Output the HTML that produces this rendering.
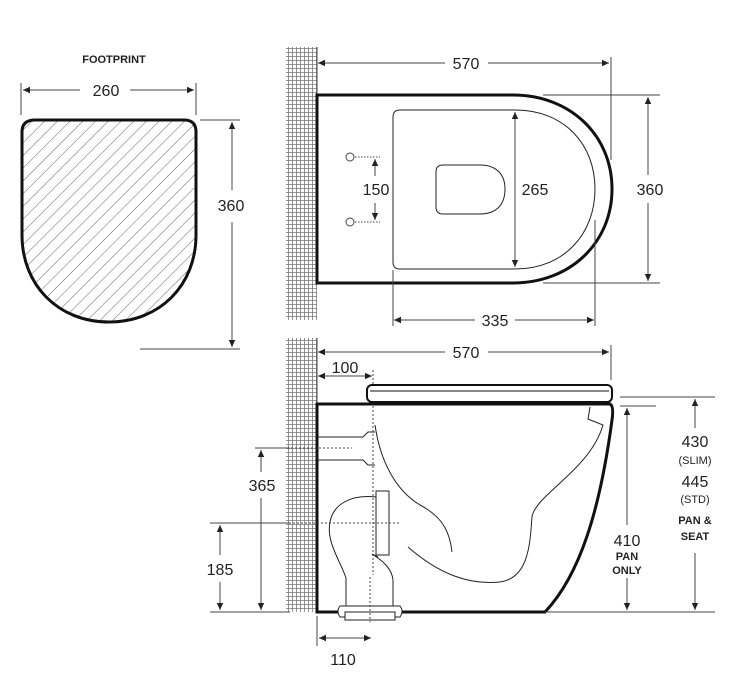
<!DOCTYPE html>
<html><head><style>
html,body{margin:0;padding:0;background:#fff;}
svg{display:block;font-family:"Liberation Sans",sans-serif;}
</style></head><body>
<svg width="743" height="686" viewBox="0 0 743 686" xmlns="http://www.w3.org/2000/svg">
<defs>
<pattern id="grid" width="4" height="4" patternUnits="userSpaceOnUse">
<path d="M0,0.5H4M0.5,0V4" stroke="#777" stroke-width="0.8" fill="none"/>
</pattern>
<pattern id="hatch" width="9" height="9" patternUnits="userSpaceOnUse" patternTransform="rotate(45)">
<line x1="0" y1="0" x2="0" y2="9" stroke="#666" stroke-width="1"/>
</pattern>
<marker id="a" markerWidth="8" markerHeight="8" refX="7" refY="4" orient="auto-start-reverse" markerUnits="userSpaceOnUse">
<path d="M0,0.8L7,4L0,7.2Z" fill="#222"/>
</marker>
</defs>
<g fill="none" stroke="#444" stroke-width="1">
<!-- walls -->
<rect x="286" y="47" width="31" height="273" fill="url(#grid)" stroke="none"/>
<rect x="286" y="338" width="31" height="274" fill="url(#grid)" stroke="none"/>
<line x1="317" y1="47" x2="317" y2="95"/>
<line x1="317" y1="338" x2="317" y2="404"/>

<!-- FOOTPRINT -->
<path d="M35,120 H184 Q196,120 196,132 V235 C196,285 160,322 109,322 C58,322 22,285 22,235 V132 Q22,120 35,120Z" fill="url(#hatch)" stroke="#111" stroke-width="3"/>
<line x1="21" y1="83" x2="21" y2="115"/><line x1="196" y1="83" x2="196" y2="115"/>
<line x1="23" y1="90" x2="80" y2="90" marker-start="url(#a)"/><line x1="130" y1="90" x2="194" y2="90" marker-end="url(#a)"/>
<line x1="200" y1="120" x2="240" y2="120"/><line x1="140" y1="349" x2="240" y2="349"/>
<line x1="232" y1="122" x2="232" y2="190" marker-start="url(#a)"/><line x1="232" y1="222" x2="232" y2="347" marker-end="url(#a)"/>

<!-- TOP PLAN -->
<path d="M317,95 H513 C570,95 612,135 612,189 C612,243 570,283 513,283 H317 Z" stroke="#111" stroke-width="3" fill="#fff"/>
<path d="M400,110 H515 C565,110 595,145 595,189 C595,233 565,269 515,269 H400 Q393,269 393,262 V117 Q393,110 400,110Z" stroke="#222"/>
<path d="M443,165 H480 C497,165 505,175 505,189 C505,204 497,214 480,214 H443 Q436,214 436,207 V172 Q436,165 443,165Z" stroke="#222"/>
<line x1="318" y1="63" x2="445" y2="63" marker-start="url(#a)"/><line x1="488" y1="63" x2="609" y2="63" marker-end="url(#a)"/>
<line x1="611" y1="57" x2="611" y2="160"/>
<line x1="515" y1="112" x2="515" y2="267" marker-start="url(#a)" marker-end="url(#a)"/>
<line x1="543" y1="95" x2="660" y2="95"/><line x1="543" y1="283" x2="660" y2="283"/>
<line x1="648" y1="97" x2="648" y2="175" marker-start="url(#a)"/><line x1="648" y1="203" x2="648" y2="281" marker-end="url(#a)"/>
<circle cx="350" cy="157" r="4"/><circle cx="350" cy="222" r="4"/>
<line x1="355" y1="157" x2="380" y2="157" stroke-dasharray="1.5,1.5"/><line x1="355" y1="222" x2="380" y2="222" stroke-dasharray="1.5,1.5"/>
<line x1="375" y1="159" x2="375" y2="176" marker-start="url(#a)"/><line x1="375" y1="203" x2="375" y2="220" marker-end="url(#a)"/>
<line x1="393" y1="270" x2="393" y2="326"/><line x1="595" y1="220" x2="595" y2="326"/>
<line x1="394" y1="320" x2="475" y2="320" marker-start="url(#a)"/><line x1="515" y1="320" x2="594" y2="320" marker-end="url(#a)"/>

<!-- SIDE VIEW -->
<line x1="318" y1="352" x2="445" y2="352" marker-start="url(#a)"/><line x1="488" y1="352" x2="609" y2="352" marker-end="url(#a)"/>
<line x1="611" y1="345" x2="611" y2="380"/>
<line x1="318" y1="376" x2="372" y2="376" marker-start="url(#a)" marker-end="url(#a)"/>
<line x1="373" y1="370" x2="373" y2="575" stroke-dasharray="2,2"/>
<rect x="367" y="385" width="245" height="17" rx="5" stroke="#111" stroke-width="2" fill="#fff"/>
<line x1="370" y1="391" x2="609" y2="391" stroke="#111"/>
<path d="M317,404 H610 Q614,406 612,420 C600,510 580,575 545,612 H317 Z" stroke="#111" stroke-width="3" fill="none"/>
<path d="M375,425 C380,460 395,490 420,505 C445,518 450,535 452,552" stroke="#222"/>
<path d="M408,547 C440,575 470,585 500,582 C530,578 530,540 532,517 C535,495 590,470 603,425 L588,419 L590,407" stroke="#222"/>
<path d="M318,437 H363 L368,432 H375 M318,460 H363 L368,465 H375" stroke="#222"/>
<line x1="263" y1="448" x2="352" y2="448" stroke-dasharray="2,2"/>
<rect x="376" y="491" width="13" height="64" stroke="#222"/>
<path d="M376,497 C350,494 333,505 330,522 C326,542 340,560 346,578 V608 M378,557 L372,554 C385,562 392,570 393,580 V608" stroke="#222"/>
<path d="M345,606 H400 Q404,611 400,617 H340 Q336,611 340,606Z" stroke="#222" fill="#fff"/>
<rect x="345" y="612" width="50" height="8" stroke="#222" fill="#fff"/>
<line x1="370" y1="577" x2="370" y2="622" stroke-dasharray="2,2"/>
<line x1="213" y1="523" x2="400" y2="523" stroke-dasharray="2,2"/>
<line x1="255" y1="448" x2="290" y2="448"/>
<line x1="210" y1="523" x2="290" y2="523"/>
<line x1="210" y1="612" x2="290" y2="612"/>
<line x1="261" y1="450" x2="261" y2="472" marker-start="url(#a)"/><line x1="261" y1="498" x2="261" y2="610" marker-end="url(#a)"/>
<line x1="220" y1="525" x2="220" y2="555" marker-start="url(#a)"/><line x1="220" y1="582" x2="220" y2="610" marker-end="url(#a)"/>
<line x1="317" y1="616" x2="317" y2="646"/>
<line x1="319" y1="638" x2="371" y2="638" marker-start="url(#a)" marker-end="url(#a)"/>
<line x1="620" y1="397" x2="715" y2="397"/><line x1="620" y1="406" x2="656" y2="406"/>
<line x1="545" y1="612" x2="715" y2="612"/>
<line x1="627" y1="408" x2="627" y2="525" marker-start="url(#a)"/><line x1="627" y1="578" x2="627" y2="610" marker-end="url(#a)"/>
<line x1="695" y1="399" x2="695" y2="428" marker-start="url(#a)"/><line x1="695" y1="553" x2="695" y2="610" marker-end="url(#a)"/>
</g>
<g fill="#222" font-size="16" text-anchor="middle">
<text x="114" y="63" font-size="11" font-weight="bold">FOOTPRINT</text>
<text x="106" y="96">260</text>
<text x="231" y="211">360</text>
<text x="466" y="69">570</text>
<text x="535" y="195">265</text>
<text x="650" y="195">360</text>
<text x="376" y="195">150</text>
<text x="495" y="326">335</text>
<text x="466" y="358">570</text>
<text x="345" y="373">100</text>
<text x="262" y="491">365</text>
<text x="220" y="575">185</text>
<text x="343" y="665">110</text>
<text x="627" y="546">410</text>
<text x="627" y="560" font-size="11" font-weight="bold">PAN</text>
<text x="627" y="574" font-size="11" font-weight="bold">ONLY</text>
<text x="695" y="447">430</text>
<text x="695" y="464" font-size="11">(SLIM)</text>
<text x="695" y="487">445</text>
<text x="695" y="503" font-size="11">(STD)</text>
<text x="695" y="524" font-size="11" font-weight="bold">PAN &amp;</text>
<text x="695" y="540" font-size="11" font-weight="bold">SEAT</text>
</g>
</svg>
</body></html>
